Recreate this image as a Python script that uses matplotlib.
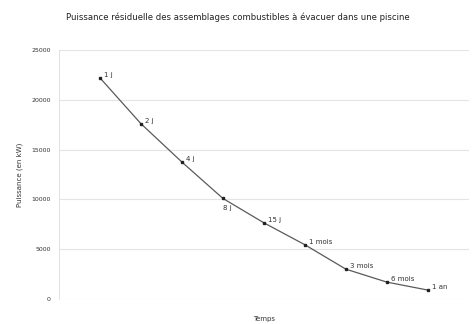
import matplotlib.pyplot as plt

# Residual heat (kW) of fuel assemblies vs time since shutdown
durees = ["1 j", "2 j", "4 j", "8 j", "15 j", "1 mois", "3 mois", "6 mois", "1 an"]
puissance = [22200, 17600, 13750, 10100, 7650, 5450, 3000, 1700, 900]
y_ticks = [0, 5000, 10000, 15000, 20000, 25000]

plt.rcParams["font.family"] = ["DejaVu Sans"]

fig = plt.figure(figsize=(4.75, 3.24), dpi=100)
ax = fig.add_axes([0.124, 0.077, 0.863, 0.769])

x = list(range(1, len(durees) + 1))
ax.plot(x, puissance, color="#5a5a5a", linewidth=0.9, marker="s",
        markersize=2, markerfacecolor="#222222", markeredgecolor="#222222")

for xi, yi, lab in zip(x, puissance, durees):
    if lab == "8 j":
        ax.annotate(lab, (xi, yi), xytext=(0, -7), textcoords="offset points",
                    fontsize=5, color="#333333", ha="left", va="center")
    else:
        ax.annotate(lab, (xi, yi), xytext=(3, 2), textcoords="offset points",
                    fontsize=5, color="#333333", ha="left", va="center")

ax.set_xlim(0, 10)
ax.set_ylim(0, 25000)
ax.set_yticks(y_ticks)
ax.set_xticks([])
ax.tick_params(axis="y", length=0, labelsize=4.5, pad=6, colors="#333333")
ax.grid(axis="y", color="#e4e4e4", linewidth=0.8)
ax.set_axisbelow(True)
for s in ["top", "right", "bottom"]:
    ax.spines[s].set_visible(False)
ax.spines["left"].set_color("#dddddd")
ax.spines["left"].set_linewidth(0.6)

ax.set_ylabel("Puissance (en kW)", fontsize=5, color="#333333", labelpad=6)
ax.set_xlabel("Temps", fontsize=5, color="#333333", labelpad=12)
fig.suptitle("Puissance résiduelle des assemblages combustibles à évacuer dans une piscine",
             fontsize=6.1, y=0.96, color="#222222")

fig.savefig("out.png", dpi=100, facecolor="white")
